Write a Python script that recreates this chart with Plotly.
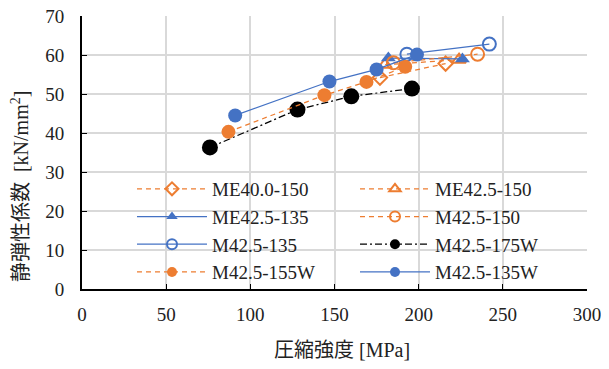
import plotly.graph_objects as go

ORANGE = "#ED7D31"
BLUE = "#4472C4"

names = ["ME40.0-150", "ME42.5-150", "ME42.5-135", "M42.5-150",
         "M42.5-135", "M42.5-175W", "M42.5-155W", "M42.5-135W"]

me400_150_x = [177, 216]
me400_150_y = [54.2, 57.8]
me425_150_x = [180, 224]
me425_150_y = [57.5, 58.8]
me425_135_x = [182, 226]
me425_135_y = [59.2, 59.0]
m425_150_x = [185, 235]
m425_150_y = [58.0, 60.2]
m425_135_x = [193, 242]
m425_135_y = [60.2, 62.8]
m425_175w_x = [76, 128, 160, 196]
m425_175w_y = [36.3, 46.0, 49.4, 51.4]
m425_155w_x = [87, 144, 169, 192]
m425_155w_y = [40.3, 49.7, 53.1, 57.0]
m425_135w_x = [91, 147, 175, 199]
m425_135w_y = [44.5, 53.2, 56.3, 60.1]

x_ticks = [0, 50, 100, 150, 200, 250, 300]
y_ticks = [0, 10, 20, 30, 40, 50, 60, 70]
x_title = "圧縮強度 [MPa]"
y_title = "静弾性係数  [kN/mm<sup>2</sup>]"

DASH = "5px,4px"
DASHDOT = "7px,3px,2px,3px"

styles = [
    (me400_150_x, me400_150_y, ORANGE, DASH, "diamond-open", 11),
    (me425_150_x, me425_150_y, ORANGE, DASH, "triangle-up-open", 12),
    (me425_135_x, me425_135_y, BLUE, "solid", "triangle-up", 13),
    (m425_150_x, m425_150_y, ORANGE, DASH, "circle-open", 13),
    (m425_135_x, m425_135_y, BLUE, "solid", "circle-open", 13),
    (m425_175w_x, m425_175w_y, "black", DASHDOT, "circle", 16),
    (m425_155w_x, m425_155w_y, ORANGE, DASH, "circle", 14),
    (m425_135w_x, m425_135w_y, BLUE, "solid", "circle", 14),
]

SERIF = "Liberation Serif, serif"
MIXED = "Liberation Serif, Noto Sans CJK JP, serif"

fig = go.Figure()
for name, (xs, ys, col, dash, sym, sz) in zip(names, styles):
    fig.add_trace(go.Scatter(
        x=xs, y=ys, name=name, mode="lines+markers", showlegend=False,
        line=dict(color=col, dash=dash, width=1.25),
        marker=dict(symbol=sym, size=sz, color=col,
                    line=dict(color=col, width=2 if "open" in sym else 0)),
    ))
# legend entries (smaller markers, as in the reference legend)
for name, (xs, ys, col, dash, sym, sz) in zip(names, styles):
    fig.add_trace(go.Scatter(
        x=[None], y=[None], name=name, mode="lines+markers",
        line=dict(color=col, dash=dash, width=1.25),
        marker=dict(symbol=sym, size=10, color=col,
                    line=dict(color=col, width=2 if "open" in sym else 0)),
    ))

fig.update_layout(
    width=593, height=353,
    margin=dict(l=74, r=13.5, t=8, b=72, autoexpand=False),
    paper_bgcolor="white", plot_bgcolor="white",
    font=dict(family=SERIF, size=19, color="#222"),
    legend=dict(
        orientation="h", x=0.099, y=0.436, xanchor="left", yanchor="top",
        bgcolor="rgba(0,0,0,0)", entrywidth=138, entrywidthmode="pixels",
        itemwidth=70, font=dict(family=SERIF, size=19, color="#222"),
        tracegroupgap=0,
    ),
    xaxis=dict(
        range=[0, 300], tickvals=x_ticks, showgrid=True, gridcolor="#D9D9D9",
        gridwidth=1.5, zeroline=False, showline=True, linecolor="black",
        linewidth=2, ticks="inside", ticklen=5, tickcolor="black",
        ticklabelstandoff=7, ticklabeloverflow="allow",
        tickfont=dict(family=SERIF, size=19),
    ),
    yaxis=dict(
        range=[0, 70], tickvals=y_ticks, showgrid=True, gridcolor="#D9D9D9",
        gridwidth=1.5, zeroline=False, showline=True, linecolor="black",
        linewidth=2, ticks="inside", ticklen=5, tickcolor="black",
        ticklabelstandoff=12, ticklabeloverflow="allow",
        tickfont=dict(family=SERIF, size=19),
    ),
    annotations=[
        dict(text=x_title, xref="paper", yref="paper", x=0.514, y=-0.2234,
             xanchor="center", yanchor="middle", showarrow=False,
             font=dict(family=MIXED, size=20, color="#222")),
        dict(text=y_title, xref="paper", yref="paper", x=-0.1227, y=0.3736,
             xanchor="center", yanchor="middle", showarrow=False, textangle=-90,
             font=dict(family=MIXED, size=20, color="#222")),
    ],
)

fig.write_html("out.html")
